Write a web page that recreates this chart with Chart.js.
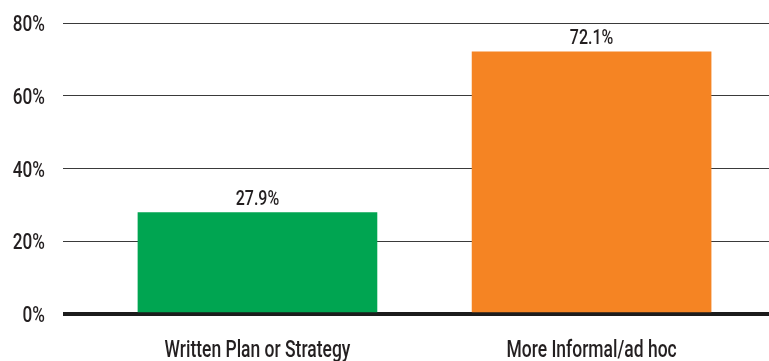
<!DOCTYPE html>
<html>
<head>
<meta charset="utf-8">
<script src="https://cdn.jsdelivr.net/npm/chart.js@4/dist/chart.umd.min.js"></script>
<style>
  html, body { margin: 0; padding: 0; background: #fff; }
  #wrap { width: 769px; height: 361px; }
</style>
</head>
<body>
<div id="wrap"><canvas id="myChart"></canvas></div>
<script>
const categories = ["Written Plan or Strategy", "More Informal/ad hoc"];
const values = [27.9, 72.1];
const barColors = ["#00a551", "#f58423"];
const yTicks = [0, 20, 40, 60, 80];

const TEXT = "#231f20";

// narrow lettering: draw with a horizontal squeeze
function narrowText(ctx, text, x, y, font, sx, align) {
  ctx.save();
  ctx.font = font;
  ctx.fillStyle = TEXT;
  ctx.textAlign = align;
  ctx.textBaseline = "alphabetic";
  ctx.translate(x, y);
  ctx.scale(sx, 1);
  ctx.fillText(text, 0, 0);
  ctx.restore();
}

/* axis labels + value labels */
const labelsPlugin = {
  id: "labelsPlugin",
  afterDraw(chart) {
    const ctx = chart.ctx;
    const xs = chart.scales.x;
    const ys = chart.scales.y;
    yTicks.forEach((v) => {
      narrowText(ctx, v + "%", 45, ys.getPixelForValue(v) + 8, "500 22px Roboto", 0.78, "right");
    });
    categories.forEach((c, i) => {
      narrowText(ctx, c, xs.getPixelForValue(i), 357, "500 23px Roboto", 0.76, "center");
    });
    chart.getDatasetMeta(0).data.forEach((bar, i) => {
      narrowText(ctx, values[i].toFixed(1) + "%", bar.x, bar.y - 8, "500 20px Roboto", 0.8, "center");
    });
  }
};

const ctx1 = document.getElementById("myChart").getContext("2d");

const data1 = {
  datasets: [
    {
      data: values.map((v, i) => ({ x: i, y: v })),
      backgroundColor: barColors,
      barThickness: 239,
    },
  ],
};

const config1 = {
  type: "bar",
  data: data1,
  plugins: [labelsPlugin],
  options: {
    responsive: true,
    maintainAspectRatio: false,
    animation: false,
    layout: { padding: { top: 23, right: 0, left: 0, bottom: 0 } },
    plugins: {
      legend: { display: false },
      tooltip: { enabled: false },
    },
    scales: {
      x: {
        type: "linear",
        bounds: "data",
        offset: false,
        min: -0.582,
        max: 1.531,
        grid: { display: false },
        border: { display: false },
        afterBuildTicks: (scale) => {
          scale.ticks = categories.map((c, i) => ({ value: i }));
        },
        afterFit: (scale) => { scale.height = 47; },
        ticks: { color: "rgba(0,0,0,0)" },
      },
      y: {
        min: 0,
        max: 80,
        z: 1,
        afterBuildTicks: (scale) => {
          scale.ticks = yTicks.map((v) => ({ value: v }));
        },
        afterFit: (scale) => { scale.width = 63; },
        border: { display: false },
        grid: {
          drawTicks: false,
          color: (c) => (c.tick && c.tick.value === 0 ? "#1c1c1c" : "#3a3a3a"),
          lineWidth: (c) => (c.tick && c.tick.value === 0 ? 4 : 1),
        },
        ticks: { color: "rgba(0,0,0,0)" },
      },
    },
  },
};

const myChart1 = new Chart(ctx1, config1);
</script>
</body>
</html>
